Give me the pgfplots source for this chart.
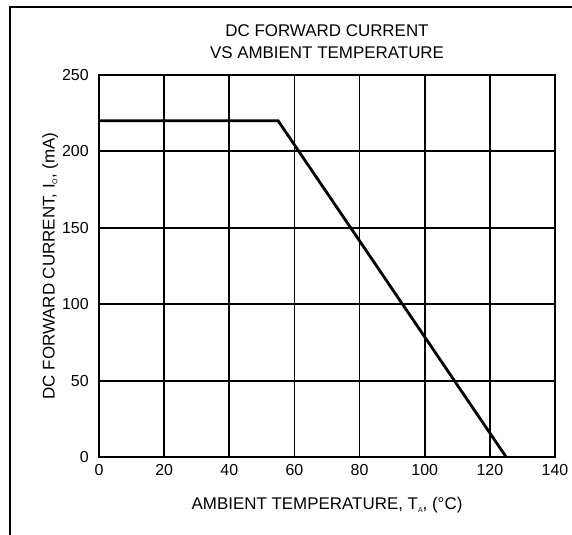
\documentclass[border=0pt]{standalone}
\usepackage{fontspec}
\setmainfont{Liberation Sans}
\usepackage{pgfplots}
\pgfplotsset{compat=1.18}
\begin{document}
\fontsize{17}{20}\selectfont
\begin{tikzpicture}
\useasboundingbox (-99bp,-78bp) rectangle (473bp,457bp);
% outer frame (left and top edges only)
\draw[line width=1.3bp] (-89bp,-78bp) -- (-89bp,450bp) -- (473bp,450bp);
\begin{axis}[
  at={(0,0)}, anchor=south west, scale only axis,
  width=456bp, height=382bp,
  xmin=0, xmax=140, ymin=0, ymax=250,
  xtick={0,20,...,140}, ytick={0,50,...,250},
  grid=major,
  major grid style={black, line width=1.8bp},
  axis line style={line width=2.4bp},
  major tick length=0pt,
  /pgf/number format/assume math mode=true,
  ticklabel style={font=\fontsize{16}{18}\selectfont},
  xticklabel style={yshift=-2bp},
  yticklabel style={xshift=-4.5bp},
  title={DC FORWARD CURRENT\\VS AMBIENT TEMPERATURE},
  title style={align=center, at={(0.5,1)}, anchor=south, inner sep=0pt,
    yshift=10bp, font=\fontsize{17}{22}\selectfont},
  xlabel={AMBIENT TEMPERATURE, T\raisebox{-0.3ex}{\fontsize{7}{8}\selectfont A}, (°C)},
  xlabel style={at={(axis description cs:0.5,-0.1257)}, anchor=center},
  ylabel={DC FORWARD CURRENT, I\raisebox{-0.3ex}{\fontsize{7}{8}\selectfont O}, (mA)},
  ylabel style={at={(axis description cs:-0.107,0.5)}, anchor=center},
]
\addplot[black, line width=2.8bp] coordinates {
  (0,220) (55,220) (125,0)
};
\end{axis}
\end{tikzpicture}
\end{document}
